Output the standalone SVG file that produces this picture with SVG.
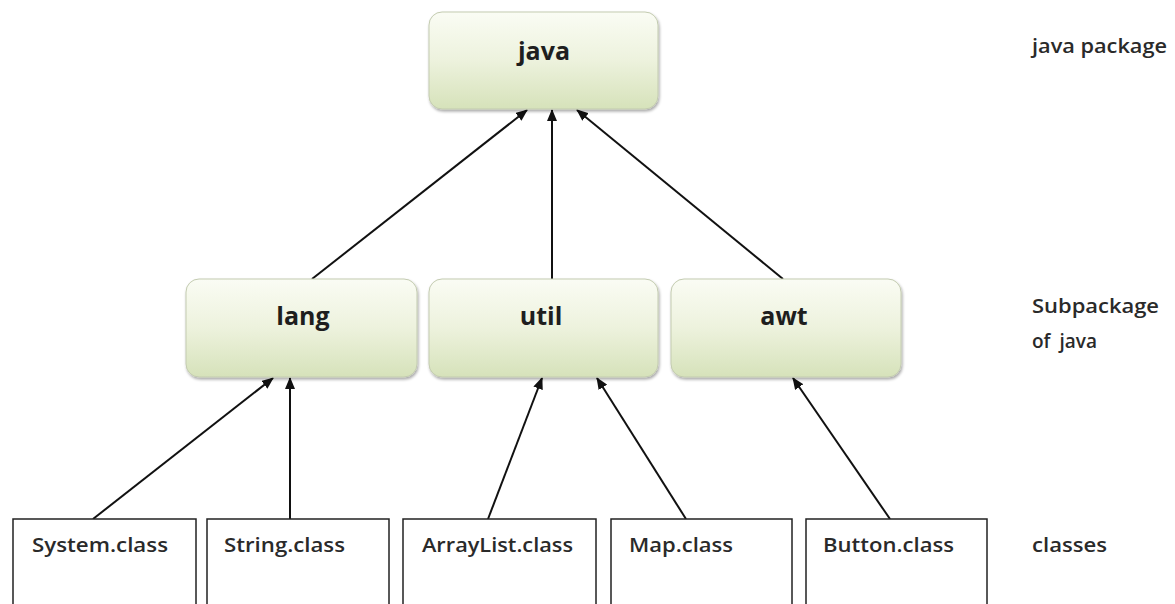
<svg xmlns="http://www.w3.org/2000/svg" width="1175" height="604" viewBox="0 0 1175 604">
<defs>
<linearGradient id="g" x1="0" y1="0" x2="0" y2="1">
<stop offset="0" stop-color="#fafcf4"/>
<stop offset="0.5" stop-color="#edf2dd"/>
<stop offset="1" stop-color="#d6e2ba"/>
</linearGradient>
<filter id="sh" x="-10%" y="-10%" width="125%" height="130%">
<feGaussianBlur in="SourceAlpha" stdDeviation="1.5"/>
<feOffset dx="1" dy="2"/>
<feComponentTransfer><feFuncA type="linear" slope="0.35"/></feComponentTransfer>
<feMerge><feMergeNode/><feMergeNode in="SourceGraphic"/></feMerge>
</filter>
<marker id="ah" viewBox="0 0 12 10" refX="11" refY="5" markerWidth="12" markerHeight="10" markerUnits="userSpaceOnUse" orient="auto">
<path d="M0,0 L12,5 L0,10 z" fill="#111"/>
</marker>
</defs>
<style>
.pkg{fill:url(#g);stroke:#c3cbb0;stroke-width:1;filter:url(#sh)}
.cls{fill:#fff;stroke:#222;stroke-width:1.5}
.pt{font-family:"Open Sans","Noto Sans",sans-serif;font-weight:700;font-size:25px;fill:#1e1e1e;text-anchor:middle}
.ct{font-family:"Open Sans","Noto Sans",sans-serif;font-weight:600;font-size:20px;fill:#2a2a2a}
.lt{font-family:"Open Sans","Noto Sans",sans-serif;font-weight:600;font-size:19px;fill:#2a2a2a}
.cn{stroke:#111;stroke-width:2;fill:none;marker-end:url(#ah)}
</style>
<rect width="1175" height="604" fill="#fff"/>
<g id="connectors">
<line class="cn" x1="312" y1="279" x2="527" y2="110"/>
<line class="cn" x1="552" y1="279" x2="552" y2="110"/>
<line class="cn" x1="783" y1="279" x2="577" y2="110"/>
<line class="cn" x1="93" y1="519" x2="273" y2="378"/>
<line class="cn" x1="290" y1="519" x2="290" y2="378"/>
<line class="cn" x1="488" y1="519" x2="542" y2="378"/>
<line class="cn" x1="686" y1="519" x2="597" y2="378"/>
<line class="cn" x1="890" y1="519" x2="793" y2="378"/>
</g>
<g id="java"><rect class="pkg" x="429" y="12" width="229" height="97" rx="13"/><text class="pt" x="544" y="60">java</text></g>
<g id="lang"><rect class="pkg" x="186" y="279" width="231" height="98" rx="13"/><text class="pt" x="303" y="325">lang</text></g>
<g id="util"><rect class="pkg" x="429" y="279" width="229" height="98" rx="13"/><text class="pt" x="541" y="325">util</text></g>
<g id="awt"><rect class="pkg" x="671" y="279" width="230" height="98" rx="13"/><text class="pt" x="784" y="325">awt</text></g>
<g id="system"><rect class="cls" x="13" y="519" width="183" height="90"/><text class="ct" x="32" y="552" textLength="136" lengthAdjust="spacingAndGlyphs">System.class</text></g>
<g id="string"><rect class="cls" x="207" y="519" width="182" height="90"/><text class="ct" x="224" y="552" textLength="121" lengthAdjust="spacingAndGlyphs">String.class</text></g>
<g id="arraylist"><rect class="cls" x="403" y="519" width="193" height="90"/><text class="ct" x="422" y="552" textLength="151" lengthAdjust="spacingAndGlyphs">ArrayList.class</text></g>
<g id="map"><rect class="cls" x="611" y="519" width="181" height="90"/><text class="ct" x="629" y="552" textLength="104" lengthAdjust="spacingAndGlyphs">Map.class</text></g>
<g id="button"><rect class="cls" x="806" y="519" width="181" height="90"/><text class="ct" x="823" y="552" textLength="131" lengthAdjust="spacingAndGlyphs">Button.class</text></g>
<g id="labels">
<text class="lt" x="1032" y="53" textLength="135" lengthAdjust="spacingAndGlyphs">java package</text>
<text class="lt" x="1032" y="313" textLength="127" lengthAdjust="spacingAndGlyphs">Subpackage</text>
<text class="lt" x="1032" y="348" style="word-spacing:4px">of java</text>
<text class="lt" x="1032" y="552" textLength="75" lengthAdjust="spacingAndGlyphs">classes</text>
</g>
</svg>
